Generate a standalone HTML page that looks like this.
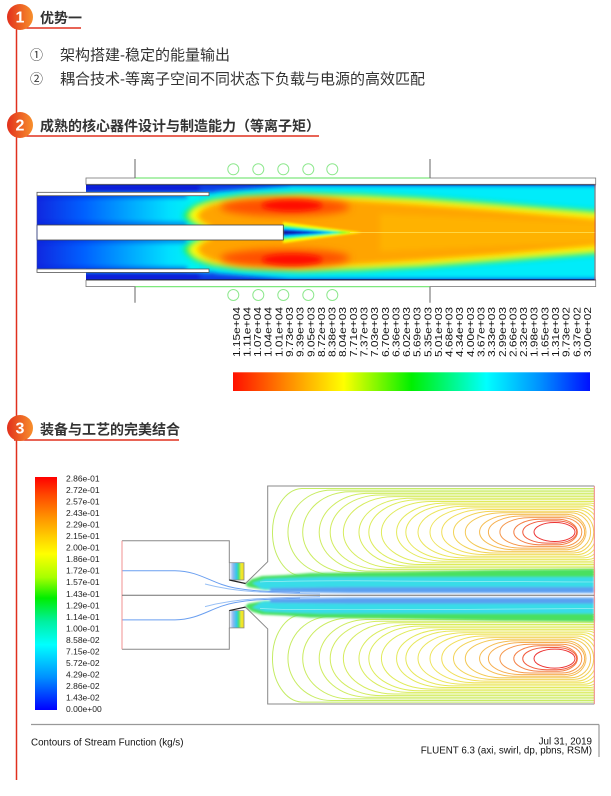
<!DOCTYPE html>
<html><head><meta charset="utf-8">
<style>
html,body{margin:0;padding:0;background:#fff;}
svg{display:block;}
.cj{font-family:"Liberation Sans","Noto Sans CJK SC",sans-serif;}
.ls{font-family:"Liberation Sans",sans-serif;}
</style></head><body>
<svg width="611" height="796" viewBox="0 0 611 796" xmlns="http://www.w3.org/2000/svg">
<defs>
 <linearGradient id="hc" x1="0" y1="0" x2="1" y2="0"><stop offset="0" stop-color="#e2301c"/><stop offset="1" stop-color="#f78f2c"/></linearGradient>
 <linearGradient id="chg" gradientUnits="userSpaceOnUse" x1="37" y1="0" x2="192" y2="0">
  <stop offset="0" stop-color="#1028e0"/><stop offset="0.3" stop-color="#0060ff"/><stop offset="0.6" stop-color="#00a8ff"/><stop offset="0.85" stop-color="#00e0ff"/><stop offset="1" stop-color="#00f2f4"/>
 </linearGradient>
 <linearGradient id="cb" x1="0" y1="0" x2="1" y2="0">
  <stop offset="0" stop-color="#ff1000"/><stop offset="0.15" stop-color="#ff8800"/><stop offset="0.31" stop-color="#ffff00"/><stop offset="0.5" stop-color="#00f000"/><stop offset="0.71" stop-color="#00ffff"/><stop offset="0.86" stop-color="#0090ff"/><stop offset="1" stop-color="#0010ff"/>
 </linearGradient>
 <linearGradient id="lg" x1="0" y1="0" x2="0" y2="1">
  <stop offset="0" stop-color="#ff0000"/><stop offset="0.08" stop-color="#ff4a00"/><stop offset="0.17" stop-color="#ff9000"/><stop offset="0.26" stop-color="#ffd000"/><stop offset="0.33" stop-color="#ffff00"/><stop offset="0.43" stop-color="#a8ff00"/><stop offset="0.52" stop-color="#00ee00"/><stop offset="0.62" stop-color="#00f0a0"/><stop offset="0.72" stop-color="#00ffff"/><stop offset="0.86" stop-color="#0090ff"/><stop offset="1" stop-color="#0000ff"/>
 </linearGradient>
 <linearGradient id="sw" x1="0" y1="0" x2="1" y2="0">
  <stop offset="0" stop-color="#ffffff"/><stop offset="0.25" stop-color="#90b8f0"/><stop offset="0.5" stop-color="#30c8e8"/><stop offset="0.65" stop-color="#50e070"/><stop offset="0.8" stop-color="#f0e830"/><stop offset="1" stop-color="#f0e020"/>
 </linearGradient>
 <clipPath id="pc">
  <rect x="86" y="184.3" width="509.7" height="95.7"/>
  <rect x="37" y="195.7" width="172" height="73"/>
 </clipPath>
 <clipPath id="cuc"><rect x="268" y="486.5" width="326" height="108.8"/></clipPath>
 <clipPath id="clc"><rect x="268" y="595.3" width="326" height="108.8"/></clipPath>
 <filter id="b1" x="-10%" y="-50%" width="120%" height="200%"><feGaussianBlur stdDeviation="1"/></filter>
 <filter id="b2" x="-10%" y="-50%" width="120%" height="200%"><feGaussianBlur stdDeviation="2"/></filter>
 <filter id="b25" x="-20%" y="-80%" width="140%" height="260%"><feGaussianBlur stdDeviation="2.5"/></filter>
 <filter id="b3" x="-10%" y="-50%" width="120%" height="200%"><feGaussianBlur stdDeviation="3"/></filter>
 <filter id="b4" x="-20%" y="-80%" width="140%" height="260%"><feGaussianBlur stdDeviation="4"/></filter>
</defs>

<!-- vertical page line -->
<line x1="16.5" y1="28" x2="16.5" y2="780" stroke="#e0301e" stroke-width="1.5"/>

<!-- Header 1 -->
<line x1="14" y1="28" x2="81" y2="28" stroke="#e0301e" stroke-width="1.5"/>
<circle cx="20" cy="17" r="13" fill="url(#hc)"/>
<text x="20" y="22.5" text-anchor="middle" class="ls" font-size="16" font-weight="bold" fill="#fff">1</text>
<text x="40" y="23" class="cj" font-size="14" font-weight="bold" fill="#333">优势一</text>

<text x="30" y="59.5" class="cj" font-size="13" fill="#333">①</text>
<text x="60" y="60" class="cj" font-size="15" fill="#333">架构搭建-稳定的能量输出</text>
<text x="30" y="83.5" class="cj" font-size="13" fill="#333">②</text>
<text x="60" y="84" class="cj" font-size="15" fill="#333">耦合技术-等离子空间不同状态下负载与电源的高效匹配</text>

<!-- Header 2 -->
<line x1="14" y1="136" x2="319" y2="136" stroke="#e0301e" stroke-width="1.5"/>
<circle cx="20" cy="125" r="13" fill="url(#hc)"/>
<text x="20" y="130.5" text-anchor="middle" class="ls" font-size="16" font-weight="bold" fill="#fff">2</text>
<text x="40" y="131" class="cj" font-size="14" font-weight="bold" fill="#333">成熟的核心器件设计与制造能力（等离子矩）</text>

<!-- Plasma figure -->
<g clip-path="url(#pc)">
 <rect x="37" y="180" width="570" height="110" fill="#00ecfa"/>
 <rect x="37" y="195" width="162" height="75" fill="url(#chg)"/>
 <g filter="url(#b2)">
  <rect x="80" y="180" width="135" height="12.5" fill="#0818d8"/>
  <polygon points="200,180 290,180 290,186 200,193" fill="#1040e8"/>
  <rect x="80" y="272.5" width="135" height="12.5" fill="#0818d8"/>
  <polygon points="200,285 290,285 290,279 200,272" fill="#1040e8"/>
  <rect x="86" y="180" width="520" height="5.5" fill="#0030e0"/>
  <rect x="86" y="279" width="520" height="5.5" fill="#0030e0"/>
  <rect x="37" y="194" width="150" height="4" fill="#0020d8" opacity="0.6"/>
  <rect x="37" y="222" width="150" height="4" fill="#0020d8" opacity="0.5"/>
  <rect x="37" y="239" width="150" height="4" fill="#0020d8" opacity="0.5"/>
  <rect x="37" y="267" width="150" height="4" fill="#0020d8" opacity="0.6"/>
 </g>
 <g filter="url(#b3)">
  <polygon fill="#20f040" points="183,216 188,209 196,204 210,199 240,195 300,193 360,194 420,197 500,203 600,211 600,254 500,262 420,268 360,271 300,272 240,270 210,266 196,261 188,256 183,249 190,242 198,239 198,226 190,223"/>
  <polygon fill="#ffff00" points="189,216 194,209 202,205 215,201 245,197.5 300,195.5 360,197 420,200 500,206 600,214 600,251 500,259 420,265 360,268 300,269.5 245,267.5 215,264 202,260 194,256 189,249 196,242 204,239 204,226 196,223"/>
  <polygon fill="#ffa400" points="196,216 202,209 212,204 240,200 300,198 360,200 420,204 500,210 600,219 600,246 500,255 420,261 360,265 300,267 240,265 212,261 202,256 196,249 204,241 210,239 210,226 204,224"/>
  <polygon fill="#ffb200" points="380,214 600,223 600,242 380,251"/>
 </g>
 <g filter="url(#b4)">
  <ellipse cx="285" cy="207" rx="65" ry="9" fill="#ff5000"/>
  <ellipse cx="285" cy="258" rx="65" ry="9" fill="#ff5000"/>
 </g>
 <g filter="url(#b25)">
  <ellipse cx="292" cy="205.5" rx="30" ry="5.5" fill="#ff0c00"/>
  <ellipse cx="292" cy="259.5" rx="30" ry="5.5" fill="#ff0c00"/>
 </g>
 <g filter="url(#b1)">
  <polygon points="283,222 362,232.5 283,243" fill="#ffff00"/>
  <polygon points="283,225 352,232.5 283,240" fill="#30ff30"/>
  <polygon points="283,227 342,232.5 283,238" fill="#00f0ff"/>
  <polygon points="283,229 332,232.5 283,236" fill="#0040ff"/>
  <polygon points="283,231 322,232.5 283,234" fill="#101080"/>
 </g>
 <line x1="350" y1="232.5" x2="596" y2="232.5" stroke="#fff070" stroke-width="0.8" opacity="0.8"/>
 <line x1="86" y1="184.8" x2="596" y2="184.8" stroke="#101860" stroke-width="1"/>
 <line x1="86" y1="279.6" x2="596" y2="279.6" stroke="#101860" stroke-width="1"/>
 <line x1="595" y1="184" x2="595" y2="280" stroke="#e04040" stroke-width="0.8"/>
</g>
<!-- walls -->
<rect x="86" y="178" width="509.7" height="6.3" fill="#fff" stroke="#777" stroke-width="0.8"/>
<rect x="86" y="280.3" width="509.7" height="6.3" fill="#fff" stroke="#777" stroke-width="0.8"/>
<rect x="37" y="192.3" width="172" height="3.4" fill="#fff" stroke="#555" stroke-width="0.8"/>
<rect x="37" y="269" width="172" height="3.4" fill="#fff" stroke="#555" stroke-width="0.8"/>
<rect x="37" y="225" width="246.3" height="15" fill="#fff" stroke="#444" stroke-width="0.8"/>
<line x1="37" y1="195.7" x2="37" y2="269" stroke="#3040a0" stroke-width="0.6"/>
<line x1="135" y1="178" x2="430" y2="178" stroke="#7de87d" stroke-width="1.3"/>
<line x1="135" y1="286.6" x2="430" y2="286.6" stroke="#7de87d" stroke-width="1.3"/>
<g stroke="#666" stroke-width="1">
 <line x1="135" y1="159" x2="135" y2="178"/>
 <line x1="430" y1="159" x2="430" y2="178"/>
 <line x1="135" y1="286.6" x2="135" y2="302.7"/>
 <line x1="430" y1="286.6" x2="430" y2="302.7"/>
</g>
<g fill="none" stroke="#8ee88e" stroke-width="1">
 <circle cx="233.3" cy="169.3" r="5.5"/><circle cx="258.3" cy="169.3" r="5.5"/><circle cx="283.3" cy="169.3" r="5.5"/><circle cx="308.3" cy="169.3" r="5.5"/><circle cx="332.3" cy="169.3" r="5.5"/>
 <circle cx="233.3" cy="295" r="5.5"/><circle cx="258.3" cy="295" r="5.5"/><circle cx="283.3" cy="295" r="5.5"/><circle cx="308.3" cy="295" r="5.5"/><circle cx="332.3" cy="295" r="5.5"/>
</g>

<!-- tick labels -->
<g class="ls" font-size="10.5" fill="#111">
 <text transform="translate(239.8,357) rotate(-90)" textLength="50" lengthAdjust="spacingAndGlyphs">1.15e+04</text>
 <text transform="translate(250.4,357) rotate(-90)" textLength="50" lengthAdjust="spacingAndGlyphs">1.11e+04</text>
 <text transform="translate(261.1,357) rotate(-90)" textLength="50" lengthAdjust="spacingAndGlyphs">1.07e+04</text>
 <text transform="translate(271.7,357) rotate(-90)" textLength="50" lengthAdjust="spacingAndGlyphs">1.04e+04</text>
 <text transform="translate(282.4,357) rotate(-90)" textLength="50" lengthAdjust="spacingAndGlyphs">1.01e+04</text>
 <text transform="translate(293.0,357) rotate(-90)" textLength="50" lengthAdjust="spacingAndGlyphs">9.73e+03</text>
 <text transform="translate(303.6,357) rotate(-90)" textLength="50" lengthAdjust="spacingAndGlyphs">9.39e+03</text>
 <text transform="translate(314.3,357) rotate(-90)" textLength="50" lengthAdjust="spacingAndGlyphs">9.05e+03</text>
 <text transform="translate(324.9,357) rotate(-90)" textLength="50" lengthAdjust="spacingAndGlyphs">8.72e+03</text>
 <text transform="translate(335.6,357) rotate(-90)" textLength="50" lengthAdjust="spacingAndGlyphs">8.38e+03</text>
 <text transform="translate(346.2,357) rotate(-90)" textLength="50" lengthAdjust="spacingAndGlyphs">8.04e+03</text>
 <text transform="translate(356.8,357) rotate(-90)" textLength="50" lengthAdjust="spacingAndGlyphs">7.71e+03</text>
 <text transform="translate(367.5,357) rotate(-90)" textLength="50" lengthAdjust="spacingAndGlyphs">7.37e+03</text>
 <text transform="translate(378.1,357) rotate(-90)" textLength="50" lengthAdjust="spacingAndGlyphs">7.03e+03</text>
 <text transform="translate(388.8,357) rotate(-90)" textLength="50" lengthAdjust="spacingAndGlyphs">6.70e+03</text>
 <text transform="translate(399.4,357) rotate(-90)" textLength="50" lengthAdjust="spacingAndGlyphs">6.36e+03</text>
 <text transform="translate(410.0,357) rotate(-90)" textLength="50" lengthAdjust="spacingAndGlyphs">6.02e+03</text>
 <text transform="translate(420.7,357) rotate(-90)" textLength="50" lengthAdjust="spacingAndGlyphs">5.69e+03</text>
 <text transform="translate(431.3,357) rotate(-90)" textLength="50" lengthAdjust="spacingAndGlyphs">5.35e+03</text>
 <text transform="translate(442.0,357) rotate(-90)" textLength="50" lengthAdjust="spacingAndGlyphs">5.01e+03</text>
 <text transform="translate(452.6,357) rotate(-90)" textLength="50" lengthAdjust="spacingAndGlyphs">4.68e+03</text>
 <text transform="translate(463.2,357) rotate(-90)" textLength="50" lengthAdjust="spacingAndGlyphs">4.34e+03</text>
 <text transform="translate(473.9,357) rotate(-90)" textLength="50" lengthAdjust="spacingAndGlyphs">4.00e+03</text>
 <text transform="translate(484.5,357) rotate(-90)" textLength="50" lengthAdjust="spacingAndGlyphs">3.67e+03</text>
 <text transform="translate(495.2,357) rotate(-90)" textLength="50" lengthAdjust="spacingAndGlyphs">3.33e+03</text>
 <text transform="translate(505.8,357) rotate(-90)" textLength="50" lengthAdjust="spacingAndGlyphs">2.99e+03</text>
 <text transform="translate(516.4,357) rotate(-90)" textLength="50" lengthAdjust="spacingAndGlyphs">2.66e+03</text>
 <text transform="translate(527.1,357) rotate(-90)" textLength="50" lengthAdjust="spacingAndGlyphs">2.32e+03</text>
 <text transform="translate(537.7,357) rotate(-90)" textLength="50" lengthAdjust="spacingAndGlyphs">1.98e+03</text>
 <text transform="translate(548.4,357) rotate(-90)" textLength="50" lengthAdjust="spacingAndGlyphs">1.65e+03</text>
 <text transform="translate(559.0,357) rotate(-90)" textLength="50" lengthAdjust="spacingAndGlyphs">1.31e+03</text>
 <text transform="translate(569.6,357) rotate(-90)" textLength="50" lengthAdjust="spacingAndGlyphs">9.73e+02</text>
 <text transform="translate(580.3,357) rotate(-90)" textLength="50" lengthAdjust="spacingAndGlyphs">6.37e+02</text>
 <text transform="translate(590.9,357) rotate(-90)" textLength="50" lengthAdjust="spacingAndGlyphs">3.00e+02</text>
</g>
<rect x="233" y="372.3" width="357" height="18.7" fill="url(#cb)"/>

<!-- Header 3 -->
<line x1="14" y1="440" x2="179" y2="440" stroke="#e0301e" stroke-width="1.5"/>
<circle cx="20" cy="428" r="13" fill="url(#hc)"/>
<text x="20" y="433.5" text-anchor="middle" class="ls" font-size="16" font-weight="bold" fill="#fff">3</text>
<text x="40" y="434.3" class="cj" font-size="14" font-weight="bold" fill="#333">装备与工艺的完美结合</text>

<!-- Fluent legend -->
<rect x="35" y="477" width="22" height="233" fill="url(#lg)"/>
<g class="ls" font-size="8.5" fill="#222">
 <text x="66" y="481.5">2.86e-01</text>
 <text x="66" y="493.0">2.72e-01</text>
 <text x="66" y="504.6">2.57e-01</text>
 <text x="66" y="516.1">2.43e-01</text>
 <text x="66" y="527.6">2.29e-01</text>
 <text x="66" y="539.1">2.15e-01</text>
 <text x="66" y="550.7">2.00e-01</text>
 <text x="66" y="562.2">1.86e-01</text>
 <text x="66" y="573.7">1.72e-01</text>
 <text x="66" y="585.2">1.57e-01</text>
 <text x="66" y="596.8">1.43e-01</text>
 <text x="66" y="608.3">1.29e-01</text>
 <text x="66" y="619.8">1.14e-01</text>
 <text x="66" y="631.3">1.00e-01</text>
 <text x="66" y="642.9">8.58e-02</text>
 <text x="66" y="654.4">7.15e-02</text>
 <text x="66" y="665.9">5.72e-02</text>
 <text x="66" y="677.4">4.29e-02</text>
 <text x="66" y="689.0">2.86e-02</text>
 <text x="66" y="700.5">1.43e-02</text>
 <text x="66" y="712.0">0.00e+00</text>
</g>

<!-- contour lines (generated) -->
<g id="cu" fill="none" stroke-width="1" clip-path="url(#cuc)"></g>
<g clip-path="url(#clc)"><g id="cl" fill="none" stroke-width="1" transform="translate(0,1190.6) scale(1,-1)"></g></g>

<!-- jets -->
<g filter="url(#b1)">
 <polygon fill="#48e060" points="245,584 252,579 262,576 285,575 310,573 400,572 500,570 594,569 594,585 500,587 400,588 300,589 265,590 248,587"/>
 <polygon fill="#38dce8" points="252,583 265,579 290,578 320,577 400,577 500,577 594,577 594,590 500,590 400,591 300,591 262,589"/>
 <polygon fill="#5aa0f0" points="270,588 350,587 450,587 594,587 594,593 450,593 350,593 270,592"/>
</g>
<g transform="translate(0,1190.6) scale(1,-1)" filter="url(#b1)">
 <polygon fill="#48e060" points="245,584 252,579 262,576 285,575 310,573 400,572 500,570 594,569 594,585 500,587 400,588 300,589 265,590 248,587"/>
 <polygon fill="#38dce8" points="252,583 265,579 290,578 320,577 400,577 500,577 594,577 594,590 500,590 400,591 300,591 262,589"/>
 <polygon fill="#5aa0f0" points="270,588 350,587 450,587 594,587 594,593 450,593 350,593 270,592"/>
</g>
<g stroke="#ffffff" stroke-width="0.6" opacity="0.6" fill="none">
 <path d="M260,582 C300,580 400,581 594,582"/>
 <path d="M260,608.6 C300,610.6 400,609.6 594,608.6"/>
</g>

<!-- streamlines -->
<g fill="none" stroke-width="1">
 <path d="M122,570.7 H175 C200,571 212,584 235,588 S270,591 300,592.5" stroke="#6a9ff0"/>
 <path d="M205,584 C220,588 240,591 260,592 S290,593.5 320,594" stroke="#98c0f5"/>
 <path d="M122,619.9 H175 C200,619.6 212,606.6 235,602.6 S270,599.6 300,598.1" stroke="#6a9ff0"/>
 <path d="M205,606.6 C220,602.6 240,599.6 260,598.6 S290,597.1 320,596.6" stroke="#98c0f5"/>
</g>

<!-- geometry -->
<g fill="none" stroke="#888" stroke-width="1">
 <path d="M122,540.7 H229.3 V562.7"/>
 <path d="M229.3,627.9 V649.3 H122"/>
 <path d="M245.5,583.5 L267.7,561.7 V486 H594.3"/>
 <path d="M245.5,607.1 L267.7,628.9 V704 H594.3"/>
</g>
<rect x="229.3" y="562.7" width="14.7" height="17.3" fill="url(#sw)" stroke="#888" stroke-width="0.8"/>
<rect x="229.3" y="610.6" width="14.7" height="17.3" fill="url(#sw)" stroke="#888" stroke-width="0.8"/>
<line x1="229.3" y1="580" x2="245.5" y2="583.5" stroke="#222" stroke-width="1.2"/>
<line x1="229.3" y1="610.6" x2="245.5" y2="607.1" stroke="#222" stroke-width="1.2"/>
<line x1="122" y1="540.7" x2="122" y2="649.3" stroke="#f09090" stroke-width="1"/>
<line x1="594.3" y1="486" x2="594.3" y2="704" stroke="#f08080" stroke-width="1"/>
<line x1="122" y1="595.3" x2="594.3" y2="595.3" stroke="#707070" stroke-width="1"/>

<!-- footer -->
<line x1="31" y1="724.5" x2="599" y2="724.5" stroke="#999" stroke-width="1.2"/>
<line x1="599" y1="724.5" x2="599" y2="757" stroke="#999" stroke-width="1.2"/>
<g class="ls" font-size="9.8" fill="#111">
 <text x="31" y="745.5">Contours of Stream Function (kg/s)</text>
 <text x="592" y="744.5" text-anchor="end">Jul 31, 2019</text>
 <text x="592" y="753.5" text-anchor="end">FLUENT 6.3 (axi, swirl, dp, pbns, RSM)</text>
</g>
</svg>
<script>
(function(){
 var N=22,out='';
 function lerp(a,b,t){return a+(b-a)*t;}
 var st=[[0,[196,236,100]],[0.35,[222,236,90]],[0.6,[240,226,90]],[0.8,[246,180,80]],[0.92,[244,120,70]],[1,[236,52,52]]];
 function col(s){
  for(var k=0;k<st.length-1;k++){
   if(s<=st[k+1][0]){
    var t=(s-st[k][0])/(st[k+1][0]-st[k][0]);var a=st[k][1],b=st[k+1][1];
    return 'rgb('+Math.round(lerp(a[0],b[0],t))+','+Math.round(lerp(a[1],b[1],t))+','+Math.round(lerp(a[2],b[2],t))+')';
   }
  }
  return 'rgb(236,52,52)';
 }
 for(var i=0;i<N;i++){
  var s=i/(N-1);
  var T=lerp(488.5,522.5,s),B=lerp(576,541.5,s),h=(B-T)/2;
  var L=271+(534-271)*Math.pow(s,0.9);
  var R=575+70*Math.pow(1-s,1.2);
  var f=0.7+1.5*Math.sqrt(s);
  var aL=Math.min(h*f,(R-L)/2),aR=Math.min(20,(R-L)/2);
  var x1=(L+aL).toFixed(1),x2=(R-aR).toFixed(1);
  out+='<path d="M'+x1+','+T.toFixed(1)+' H'+x2+' A'+aR.toFixed(1)+','+h.toFixed(1)+' 0 0 1 '+x2+','+B.toFixed(1)+' H'+x1+' A'+aL.toFixed(1)+','+h.toFixed(1)+' 0 0 1 '+x1+','+T.toFixed(1)+' Z" stroke="'+col(s)+'"/>';
 }
 document.getElementById('cu').innerHTML=out;
 document.getElementById('cl').innerHTML=out;
})();
</script>
</body></html>
